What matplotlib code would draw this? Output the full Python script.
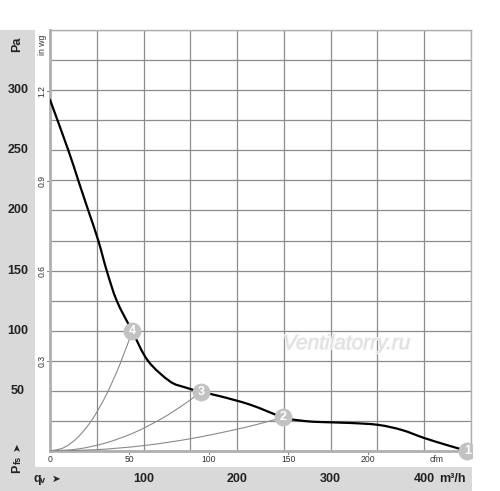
import matplotlib
matplotlib.use("Agg")
import matplotlib.pyplot as plt
from matplotlib.patches import Rectangle, PathPatch
from matplotlib.path import Path
import matplotlib.patheffects as pe

# ---- data (m3/h, Pa) ----
curve_q = [0, 19.6, 30.2, 40.9, 51.6, 60.6, 71.3, 87.6, 104.7, 128, 144, 161.4,
           182, 214, 249, 267, 285, 321, 351, 376, 400, 424, 446]
curve_p = [292, 250, 225, 200, 175, 150, 125, 100, 75, 58, 53, 49.2,
           45.5, 38.5, 28, 25.4, 24.2, 23.3, 21.7, 17.5, 10.8, 5.0, 0]

sys4_q = [0, 15, 30, 45, 60, 75, 88.0]
sys4_p = [0, 2.9, 11.6, 26.1, 46.5, 72.6, 100]
sys3_q = [0, 30, 60, 90, 120, 145, 161.4]
sys3_p = [0, 1.7, 6.8, 15.3, 27.2, 39.7, 49.2]
sys2_q = [0, 50, 100, 150, 200, 230, 249]
sys2_p = [0, 1.1, 4.5, 10.2, 18.1, 23.9, 28]

points_label = ["1", "2", "3", "4"]
points_q = [446, 249, 161.4, 88.0]
points_p = [0, 28, 49.2, 100]

pa_ticks = [50, 100, 150, 200, 250, 300]
m3h_ticks = [100, 200, 300, 400]
cfm_ticks = [0, 50, 100, 150, 200]
inwg_ticks = [0.3, 0.6, 0.9, 1.2]

CFM = 1.699   # m3/h per cfm
INWG = 249.09 # Pa per in wg

W, H = 500, 491
fig = plt.figure(figsize=(W / 100, H / 100), dpi=100)
fig.patch.set_facecolor("white")

def fx(px):
    return px / W

def fy(py):
    return 1 - py / H

band = "#d9d9d9"
fig.patches.append(Rectangle((0, 0), fx(35), fy(30), transform=fig.transFigure,
                             facecolor=band, edgecolor="none", zorder=-5))
fig.patches.append(Rectangle((0, 0), fx(472), fy(467), transform=fig.transFigure,
                             facecolor=band, edgecolor="none", zorder=-5))

ax = fig.add_axes([fx(50), fy(451), fx(471) - fx(50), fy(30) - fy(451)])
ax.set_xlim(0, 450)
ax.set_ylim(0, 350)
ax.set_xticks(range(0, 451, 50))
ax.set_yticks(range(0, 351, 25))
ax.grid(True, color="#8c8c8c", linewidth=0.9)
ax.tick_params(length=0, labelbottom=False, labelleft=False)
for s in ax.spines.values():
    s.set_color("#b0b0b0")
    s.set_linewidth(1.0)
ax.spines["left"].set_linewidth(2.0)
ax.spines["bottom"].set_linewidth(2.0)
ax.set_axisbelow(True)


def smooth_path(xs, ys):
    """Catmull-Rom through the read points, expressed as cubic Bezier path segments."""
    pts = list(zip(xs, ys))
    n = len(pts)
    verts = [pts[0]]
    codes = [Path.MOVETO]
    for i in range(n - 1):
        p0 = pts[i - 1] if i > 0 else pts[i]
        p1 = pts[i]
        p2 = pts[i + 1]
        p3 = pts[i + 2] if i + 2 < n else pts[i + 1]
        c1 = (p1[0] + (p2[0] - p0[0]) / 6, p1[1] + (p2[1] - p0[1]) / 6)
        c2 = (p2[0] - (p3[0] - p1[0]) / 6, p2[1] - (p3[1] - p1[1]) / 6)
        verts += [c1, c2, p2]
        codes += [Path.CURVE4] * 3
    return Path(verts, codes)


for q, p in [(sys4_q, sys4_p), (sys3_q, sys3_p), (sys2_q, sys2_p)]:
    ax.add_patch(PathPatch(smooth_path(q, p), facecolor="none", edgecolor="#8a8a8a",
                           linewidth=0.8, zorder=3))

ax.add_patch(PathPatch(smooth_path(curve_q, curve_p), facecolor="none", edgecolor="black",
                       linewidth=1.6, zorder=4, capstyle="round"))

# watermark
ax.text(0.705, 0.255, "Ventilatorry.ru", transform=ax.transAxes, fontsize=15,
        style="italic", family="Liberation Sans", color="#e0e0e0", ha="center", va="center",
        zorder=2, path_effects=[pe.withStroke(linewidth=1.2, foreground="#f4f4f4")])

# operating points
clip = Rectangle((0, 0), fx(472), 1, transform=fig.transFigure, facecolor="none",
                 edgecolor="none", zorder=-6)
fig.patches.append(clip)
for lab, q, p in zip(points_label, points_q, points_p):
    sc = ax.scatter([q], [p], s=165, color="#c2c2c2", zorder=5, clip_on=True, linewidths=0)
    sc.set_clip_path(clip)
    t = ax.text(q, p, lab, color="white", fontsize=9, fontweight="bold", family="Liberation Sans",
                ha="center", va="center", zorder=6)
    t.set_clip_path(clip)

yt = ax.get_yaxis_transform()
xt = ax.get_xaxis_transform()
bold = dict(family="Liberation Sans", fontweight="bold", color="#222222")
FS = 9

# Pa labels
for v in pa_ticks:
    ax.text(-0.076, v, str(v), transform=yt, ha="center", va="center", fontsize=FS,
            clip_on=False, **bold)
ax.text(-0.078, 338.5, "Pa", transform=yt, ha="center", va="center", fontsize=FS,
        rotation=90, clip_on=False, **bold)
ax.text(-0.078, -11.7, "P", transform=yt, ha="center", va="top", fontsize=FS,
        rotation=90, clip_on=False, **bold)
ax.text(-0.075, -10.8, "fs", transform=yt, ha="center", va="bottom", fontsize=6.5,
        rotation=90, clip_on=False, **bold)
ax.text(-0.078, 4, "➤", transform=yt, ha="center", va="center", fontsize=7.5,
        rotation=90, clip_on=False, family="DejaVu Sans", color="#222222")

# m3/h labels in bottom band
yb = (491 - 479) / H
for v in m3h_ticks:
    fig.text(fx(50 + v * 421 / 450), yb, str(v), ha="center", va="center", fontsize=FS, **bold)
fig.text(fx(439), yb, "m³/h", ha="left", va="center", fontsize=FS, **bold)
fig.text(fx(33), yb, "q", ha="left", va="center", fontsize=FS, **bold)
fig.text(fx(39.5), yb - 0.004, "v", ha="left", va="center", fontsize=6.5, **bold)
fig.text(fx(56), yb, "➤", ha="center", va="center", fontsize=7.5, family="DejaVu Sans",
         color="#222222")

# cfm labels
for v in cfm_ticks:
    q = v * CFM
    ax.text(q, -0.02, str(v), transform=xt, ha="center", va="center", fontsize=6.2,
            family="Liberation Sans", color="#333333", clip_on=False)
    if v > 0:
        ax.plot([q, q], [0, -0.008], transform=xt, color="#666666", linewidth=0.6, clip_on=False)
ax.text(250 * CFM - 12, -0.02, "cfm", transform=xt, ha="center", va="center", fontsize=6.2,
        family="Liberation Sans", color="#333333", clip_on=False)

# in wg labels
for v in inwg_ticks:
    p = v * INWG
    ax.text(-0.019, p, f"{v:.1f}", transform=yt, ha="center", va="center", fontsize=6.2,
            rotation=90, family="Liberation Sans", color="#333333", clip_on=False)
    ax.plot([-0.008, 0], [p, p], transform=yt, color="#666666", linewidth=0.6, clip_on=False)
ax.text(-0.019, 338, "in wg", transform=yt, ha="center", va="center", fontsize=6.2,
        rotation=90, family="Liberation Sans", color="#333333", clip_on=False)

fig.savefig("out.png", dpi=100)
